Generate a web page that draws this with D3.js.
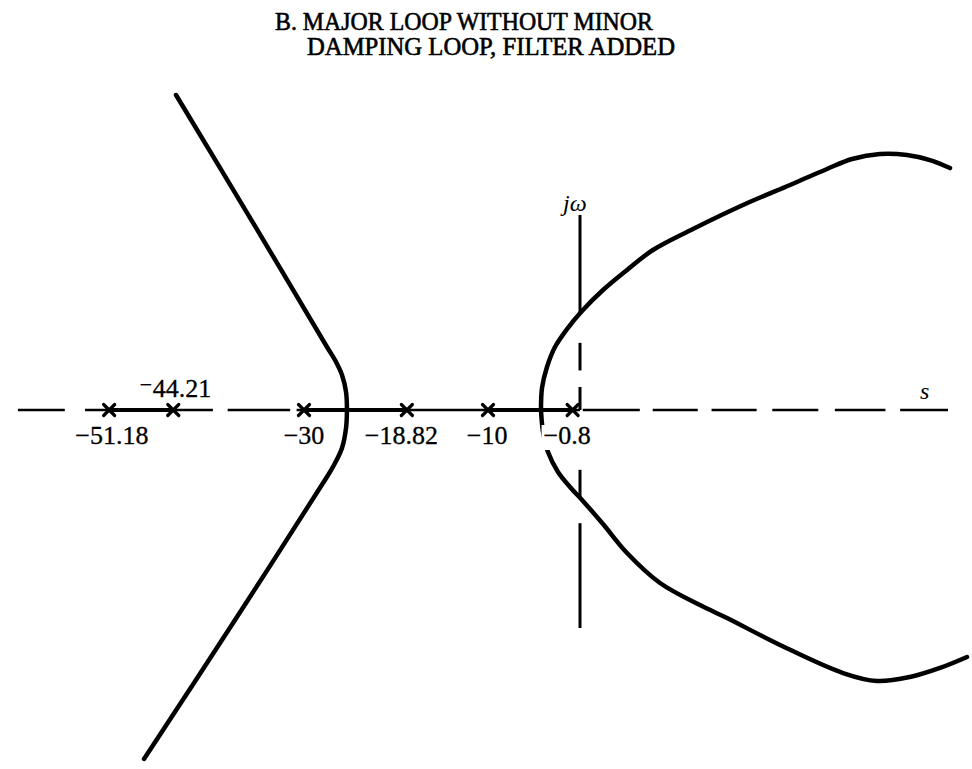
<!DOCTYPE html>
<html>
<head>
<meta charset="utf-8">
<script src="https://cdn.jsdelivr.net/npm/d3@7"></script>
<style>
  html, body { margin: 0; padding: 0; background: #fff; }
  svg { display: block; }
  text { font-family: "Liberation Serif", "DejaVu Serif", serif; fill: #000; }
</style>
</head>
<body>
<script>
// Open-loop poles on the real axis (s-plane)
const poles = [-51.18, -44.21, -30, -18.82, -10, -0.8];
const poleLabels = ["\u221251.18", "\u207B44.21", "\u221230", "\u221218.82", "\u221210", "\u22120.8"];
const labelAbove = [false, true, false, false, false, false];
const labelShift = [0.3, 0.2, 0, -0.6, -0.1, -0.6];

// Real-axis segments that belong to the locus
const realLocus = [[-51.18, -44.21], [-30, -18.82], [-10, -0.8]];

// Dashed real axis (sigma ranges)
const realAxisDashes = [[-61.1, -56], [-53.8, -39.9], [-38.3, -31.5], [-30.8, 0],
  [0.3, 6.5], [7.9, 12.8], [14.3, 19.2], [20.9, 25.9], [27.7, 33.2], [34.8, 40.0]];

// Imaginary (j\u03c9) axis pieces (omega ranges)
const jwAxisDashes = [[10.5, 21.2], [4.3, 7.3], [0, 2.5], [-9.5, -6.5], [-23.7, -12.3]];

// Complex branches of the root locus: [sigma, omega]
const branchLeftUpper = [[-25.33, 0], [-25.43, 1.96], [-25.87, 3.80], [-26.63, 5.43],
  [-27.50, 6.85], [-35.65, 20.54], [-43.91, 34.24]];
const branchLeftLower = [[-25.33, 0], [-25.43, -1.96], [-25.87, -4.13], [-26.74, -5.98],
  [-27.72, -7.61], [-37.5, -22.83], [-47.39, -37.93]];
const branchRightUpper = [[-4.24, 0], [-4.13, 2.39], [-3.59, 4.67], [-2.72, 6.85],
  [-1.41, 8.80], [0.22, 10.76], [2.50, 13.04], [5.11, 15.22], [7.93, 17.39],
  [12.28, 19.67], [17.72, 22.28], [22.83, 24.46], [26.85, 26.20], [29.57, 27.28],
  [32.61, 27.83], [35.54, 27.72], [38.04, 27.17], [40.22, 26.30]];
const branchRightLower = [[-4.24, 0], [-4.02, -2.39], [-3.48, -4.57], [-2.39, -6.74],
  [-1.09, -8.37], [0.22, -9.78], [2.50, -12.39], [5.11, -15.54], [8.70, -18.80],
  [13.04, -21.20], [15.98, -22.61], [21.74, -25.54], [28.59, -28.59], [32.28, -29.46],
  [35.87, -29.02], [39.13, -28.04], [42.07, -26.85]];

const titleLines = ["B. MAJOR LOOP WITHOUT MINOR", "DAMPING LOOP, FILTER ADDED"];

const W = 972, H = 769;
const svg = d3.select("body").append("svg").attr("width", W).attr("height", H);

const x = d3.scaleLinear().domain([-60, 40]).range([28, 948]);
const y = d3.scaleLinear().domain([-30, 30]).range([686, 134]);

// Title
svg.append("text").attr("x", 275).attr("y", 30)
  .attr("font-size", 25).attr("stroke", "#000").attr("stroke-width", 0.6)
  .attr("textLength", 378).attr("lengthAdjust", "spacingAndGlyphs")
  .text(titleLines[0]);
svg.append("text").attr("x", 307).attr("y", 55)
  .attr("font-size", 25).attr("stroke", "#000").attr("stroke-width", 0.6)
  .attr("textLength", 368).attr("lengthAdjust", "spacingAndGlyphs")
  .text(titleLines[1]);

// Real axis
svg.append("g").selectAll("line").data(realAxisDashes).join("line")
  .attr("x1", d => x(d[0])).attr("x2", d => x(d[1]))
  .attr("y1", y(0)).attr("y2", y(0))
  .attr("stroke", "#000").attr("stroke-width", 2.4);

// Imaginary axis
svg.append("g").selectAll("line").data(jwAxisDashes).join("line")
  .attr("x1", x(0)).attr("x2", x(0))
  .attr("y1", d => y(d[0])).attr("y2", d => y(d[1]))
  .attr("stroke", "#000").attr("stroke-width", 3);

// Locus on the real axis
svg.append("g").selectAll("line").data(realLocus).join("line")
  .attr("x1", d => x(d[0])).attr("x2", d => x(d[1]))
  .attr("y1", y(0)).attr("y2", y(0))
  .attr("stroke", "#000").attr("stroke-width", 4.2);

// Complex branches
const line = d3.line().x(d => x(d[0])).y(d => y(d[1])).curve(d3.curveCatmullRom.alpha(0.5));
svg.append("g").selectAll("path")
  .data([branchLeftUpper, branchLeftLower, branchRightUpper, branchRightLower])
  .join("path")
  .attr("d", line)
  .attr("fill", "none").attr("stroke", "#000").attr("stroke-width", 4.5)
  .attr("stroke-linecap", "round");

// Pole markers
const gp = svg.append("g").attr("stroke", "#000").attr("stroke-width", 3.2).attr("stroke-linecap", "round");
poles.forEach(p => {
  const cx = x(p), cy = y(0), r = 5.5;
  gp.append("line").attr("x1", cx - r).attr("y1", cy - r).attr("x2", cx + r).attr("y2", cy + r);
  gp.append("line").attr("x1", cx - r).attr("y1", cy + r).attr("x2", cx + r).attr("y2", cy - r);
});

// Pole labels (white backing where a branch passes behind)
const gl = svg.append("g");
poles.forEach((p, i) => {
  const t = gl.append("text")
    .attr("x", x(p + labelShift[i]))
    .attr("y", labelAbove[i] ? y(0) - 13 : y(0) + 34)
    .attr("text-anchor", "middle")
    .attr("font-size", 26)
    .attr("stroke", "#000").attr("stroke-width", 0.3)
    .text(poleLabels[i]);
  if (i === poles.length - 1) {
    const b = t.node().getBBox();
    gl.insert("rect", () => t.node())
      .attr("x", b.x - 2).attr("y", b.y + 4).attr("width", b.width + 2).attr("height", b.height - 4)
      .attr("fill", "#fff");
  }
});

// Axis names
svg.append("text").attr("x", x(0) - 17).attr("y", 211)
  .attr("font-size", 24).attr("font-style", "italic").text("j\u03c9");
svg.append("text").attr("x", 920).attr("y", 399)
  .attr("font-size", 24).attr("font-style", "italic").text("s");
</script>
</body>
</html>
